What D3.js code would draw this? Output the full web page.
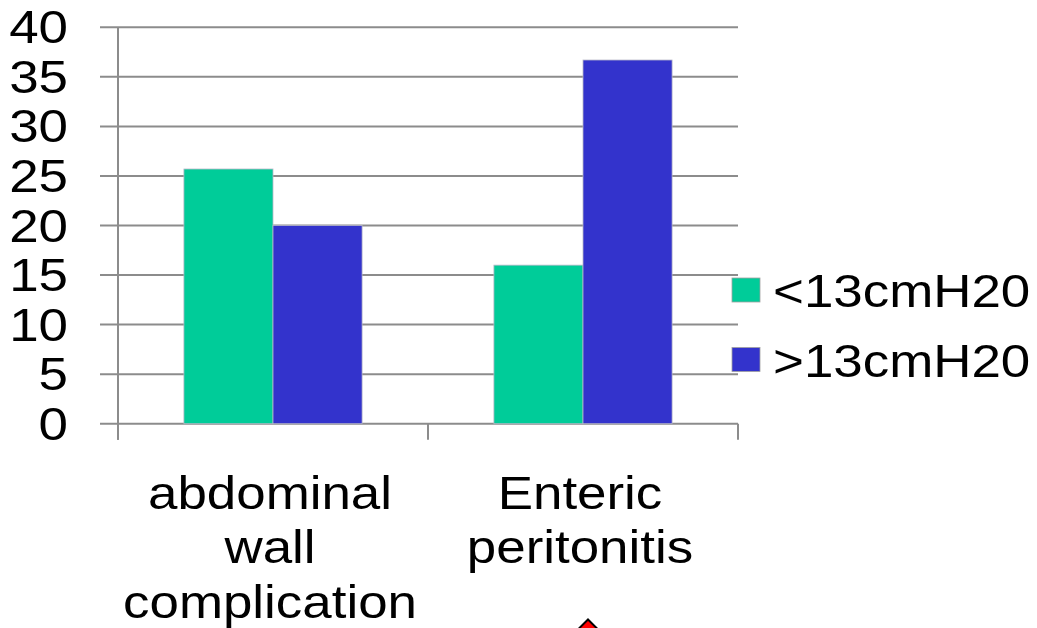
<!DOCTYPE html>
<html>
<head>
<meta charset="utf-8">
<script src="https://cdn.jsdelivr.net/npm/d3@7"></script>
<style>
  html, body { margin: 0; padding: 0; background: #fff; }
  svg { display: block; }
  text { font-family: "Liberation Sans", Arial, sans-serif; fill: #000; }
</style>
</head>
<body>
<div id="chart"></div>
<script>
// Complication rates (%) by intra-abdominal pressure group
const categories = [["abdominal", "wall", "complication"], ["Enteric", "peritonitis"]];
const categoryKeys = ["abdominal wall complication", "Enteric peritonitis"];
const seriesNames = ["<13cmH20", ">13cmH20"];
const lowPressure = [25.7, 16];
const highPressure = [20, 36.7];
const yTicks = [0, 5, 10, 15, 20, 25, 30, 35, 40];
const colors = ["#00CC99", "#3333CC"];

const W = 1037, H = 628;
const plotLeft = 118, plotRight = 738, plotTop = 27.3, plotBottom = 423.7;
const stretch = 1.15;   // wide lettering
const fontSize = 46;
const gridColor = "#8c8c8c";

const svg = d3.select("#chart").append("svg")
  .attr("width", W).attr("height", H);

const y = d3.scaleLinear().domain([0, 40]).range([plotBottom, plotTop]);
const x0 = d3.scaleBand().domain(categoryKeys).range([plotLeft, plotRight]).paddingInner(0).paddingOuter(0);
const x1 = d3.scaleBand().domain(seriesNames).range([0, x0.bandwidth()]).paddingInner(0).paddingOuter(0.74);

// horizontal gridlines with tick stubs to the left of the axis
svg.append("g").selectAll("line").data(yTicks).join("line")
  .attr("x1", plotLeft - 18).attr("x2", plotRight)
  .attr("y1", d => y(d)).attr("y2", d => y(d))
  .attr("stroke", gridColor).attr("stroke-width", 2);

// value axis line
svg.append("line")
  .attr("x1", plotLeft).attr("x2", plotLeft)
  .attr("y1", y(40)).attr("y2", plotBottom + 16)
  .attr("stroke", gridColor).attr("stroke-width", 2);

// category separators on the baseline
const sepX = [plotLeft, ...categoryKeys.map(k => x0(k) + x0.bandwidth())];
svg.append("g").selectAll("line").data(sepX).join("line")
  .attr("x1", d => d).attr("x2", d => d)
  .attr("y1", plotBottom).attr("y2", plotBottom + 16)
  .attr("stroke", gridColor).attr("stroke-width", 2);

// y tick labels
svg.append("g").selectAll("text").data(yTicks).join("text")
  .attr("transform", d => `translate(68,${y(d) + 16}) scale(${stretch},1)`)
  .attr("text-anchor", "end")
  .attr("font-size", fontSize)
  .text(d => d);

// bars
const seriesValues = [lowPressure, highPressure];
const barData = [];
categoryKeys.forEach((k, i) => {
  seriesNames.forEach((s, j) => {
    barData.push({ cat: k, series: s, value: seriesValues[j][i], color: colors[j] });
  });
});
svg.append("g").selectAll("rect").data(barData).join("rect")
  .attr("x", d => x0(d.cat) + x1(d.series))
  .attr("y", d => y(d.value))
  .attr("width", x1.bandwidth())
  .attr("height", d => y(0) - y(d.value))
  .attr("fill", d => d.color)
  .attr("stroke", "#b8b8c8").attr("stroke-width", 0.8);

// category labels (multi-line)
const catG = svg.append("g").selectAll("g").data(categoryKeys).join("g")
  .attr("transform", (d, i) => `translate(${x0(d) + x0.bandwidth() / 2 - 3},509) scale(${stretch},1)`);
catG.each(function (d, i) {
  d3.select(this).selectAll("text").data(categories[i]).join("text")
    .attr("x", 0)
    .attr("y", (t, j) => j * 54.5)
    .attr("text-anchor", "middle")
    .attr("font-size", fontSize)
    .text(t => t);
});

// legend
const legend = svg.append("g").selectAll("g").data(seriesNames).join("g")
  .attr("transform", (d, i) => `translate(732,${278 + i * 69.5})`);
legend.append("rect")
  .attr("width", 28).attr("height", 24)
  .attr("fill", (d, i) => colors[i])
  .attr("stroke", "#a0a0a0").attr("stroke-width", 0.8);
legend.append("text")
  .attr("transform", `translate(41,29) scale(${stretch},1)`)
  .attr("font-size", fontSize)
  .text(d => d);

// small diamond marker at the bottom edge
svg.append("path")
  .attr("d", d3.symbol().type(d3.symbolDiamond2).size(700)())
  .attr("transform", "translate(588,636)")
  .attr("fill", "#ff0000").attr("stroke", "#000").attr("stroke-width", 2);
</script>
</body>
</html>
